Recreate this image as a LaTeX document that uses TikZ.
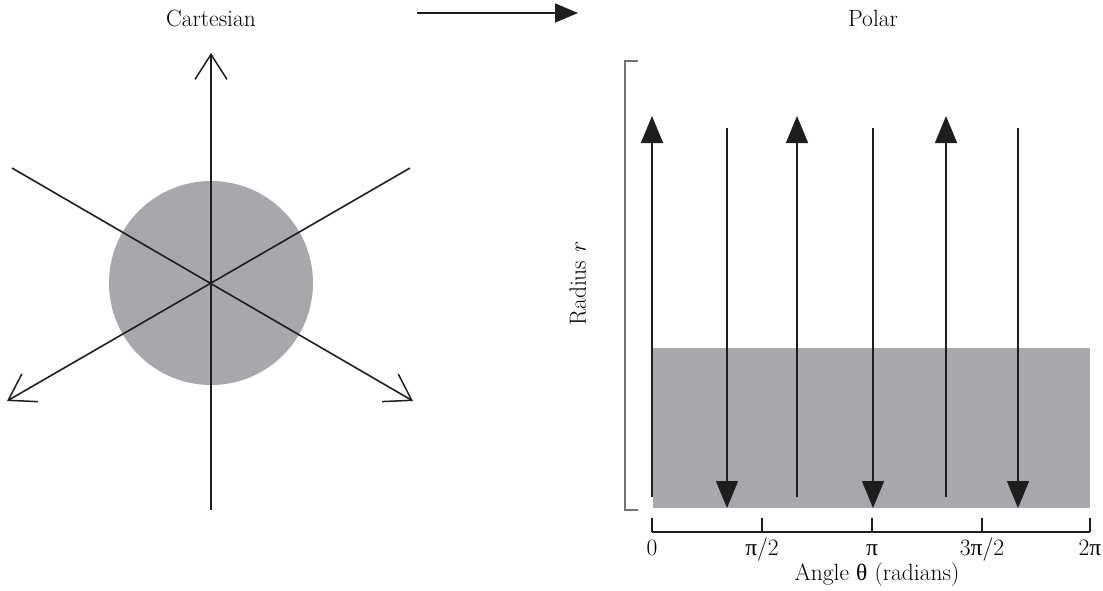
\documentclass[tikz,border=0pt]{standalone}
\usepackage{fontspec}
\usetikzlibrary{arrows.meta}
\newfontfamily\grk{Liberation Serif}
\definecolor{fillgray}{RGB}{167,168,172}
\definecolor{brgray}{RGB}{115,115,115}
\definecolor{ink}{RGB}{30,30,30}
\begin{document}
\begin{tikzpicture}[x=1pt,y=-1pt,
  lbl/.style={font=\fontsize{23.5}{28}\selectfont, inner sep=0pt},
  axisline/.style={draw=ink, line width=1.6pt},
  openarr/.style={axisline, -{Straight Barb[length=25pt,width=32pt,line width=1.5pt]}},
  solidarr/.style={axisline, -{Triangle[length=27pt,width=22pt]}}]
\useasboundingbox (0,0) rectangle (1103,590);
% titles
\node[lbl] (cart) at (211,18) {Cartesian};
\node[lbl] (polar) at (873,18) {Polar};
\coordinate (tA) at (417,13);
\coordinate (tB) at (578,13);
\draw[axisline, -{Triangle[length=23pt,width=19pt]}] (tA) -- (tB);
% cartesian
\coordinate (O) at (211,283);
\fill[fillgray] (O) circle (102);
\coordinate (vtop) at (211,53);
\coordinate (vbot) at (211,510);
\coordinate (ul) at (12,168);
\coordinate (lr) at (413,401);
\coordinate (ur) at (410,168);
\coordinate (ll) at (7,401);
\draw[openarr] (vbot) -- (vtop);
\draw[openarr] (ul) -- (lr);
\draw[openarr] (ur) -- (ll);
% polar
\fill[fillgray] (653,348) rectangle (1090,508);
\coordinate (b1) at (638,61);
\coordinate (b2) at (625,61);
\coordinate (b3) at (625,510);
\coordinate (b4) at (638,510);
\draw[brgray, line width=1.3pt] (b1) -- (b2) -- (b3) -- (b4);
\node[lbl, rotate=90] (rad) at (578,284) {Radius \textit{r}};
\foreach \x [count=\i] in {652,797,946}{
  \coordinate (ua\i) at (\x,497);
  \coordinate (ub\i) at (\x,116);
  \draw[solidarr] (ua\i) -- (ub\i);
}
\foreach \x [count=\i] in {727,873,1018}{
  \coordinate (da\i) at (\x,128);
  \coordinate (db\i) at (\x,508);
  \draw[solidarr] (da\i) -- (db\i);
}
% angle axis
\coordinate (ax0) at (652,532);
\coordinate (ax1) at (1090,532);
\draw[axisline, line width=1.2pt] (ax0) -- (ax1);
\foreach \x/\t [count=\i] in {652/0,762/{{\grk π}/2},872/{\grk π},982/{3{\grk π}/2},1090/{2{\grk π}}}{
  \coordinate (tk\i) at (\x,532);
  \draw[axisline, line width=1.2pt] (tk\i) -- ++(0,-14);
  \node[lbl, anchor=base] (tl\i) at (\x,555) {\t};
}
\node[lbl, anchor=base] (angle) at (877,580) {Angle {\grk θ} (radians)};
\end{tikzpicture}
\end{document}
